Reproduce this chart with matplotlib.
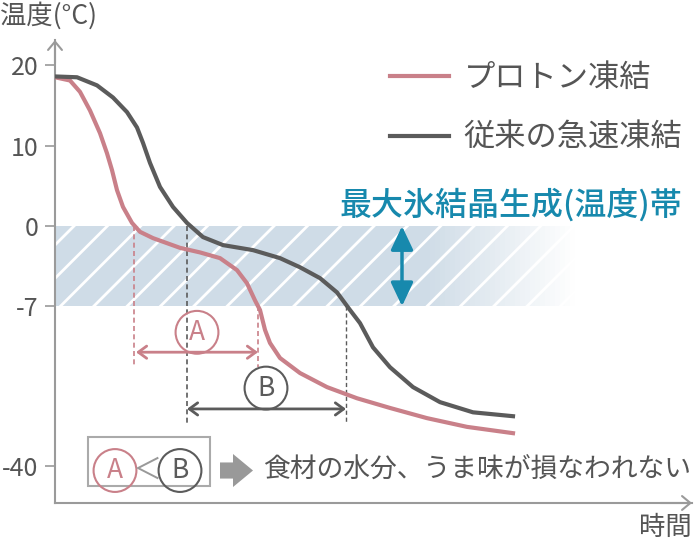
import numpy as np
import matplotlib.pyplot as plt
from matplotlib.patches import Rectangle

plt.rcParams['font.family'] = ['Noto Sans CJK JP', 'DejaVu Sans']
plt.rcParams['hatch.linewidth'] = 2.0

# time (arbitrary units) / temperature (deg C)
proton_t = [0, 1.5, 2.5, 3.5, 4.5, 5.2, 5.7, 6.2, 6.8, 7.7, 8.5, 9.8, 12.5, 14.5,
            16.5, 18.2, 19.2, 20.0, 20.5, 21.0, 21.5, 22.5, 24.5, 27.2, 30.2,
            33.5, 37.2, 41.2, 45.8]
proton_T = [18.5, 18.1, 16.7, 14.4, 11.6, 9.1, 7.0, 4.5, 2.4, 0.4, -0.5, -1.05, -1.9,
            -2.3, -2.8, -3.85, -5.0, -6.5, -7.8, -11.9, -14.6, -17.7, -20.8, -23.7,
            -26.0, -28.0, -30.1, -31.9, -33.2]
conv_t = [0, 2.2, 4.2, 5.8, 7.2, 8.2, 8.8, 9.5, 10.5, 11.8, 13.2, 14.8, 16.8, 19.8,
          22.5, 24.5, 26.5, 28.2, 29.5, 30.5, 31.8, 33.5, 35.8, 38.5, 41.8, 45.8]
conv_T = [18.6, 18.5, 17.5, 16.0, 14.2, 12.3, 10.4, 7.9, 4.9, 2.4, 0.4, -0.96, -1.66,
          -2.1, -2.8, -3.6, -4.55, -5.8, -7.8, -10.5, -15.5, -19.6, -23.7, -26.8,
          -28.9, -29.7]
series_names = ['プロトン凍結', '従来の急速凍結']

ytick_vals = [20, 10, 0, -7, -40]
ytick_labels = ['20', '10', '0', '-7', '-40']
band_lo, band_hi = -7, 0

# time markers for A (proton) and B (conventional)
a_start, a_end = 7.9, 20.3
b_start, b_end = 13.2, 29.1

PINK = '#c98089'
DARK = '#5b5b5b'
AXIS = '#9a9a9a'
TEXT = '#555555'
TEAL = '#1789ad'
BAND = '#cfdce7'

# the temperature axis is not linear: piecewise stretch
seg_T = [-200, -40, -7, 0, 10, 20, 200]
seg_H = [-738.8, 37, 197, 277, 357, 438, 1896]


def fwd(v):
    return np.interp(v, seg_T, seg_H)


def inv(v):
    return np.interp(v, seg_H, seg_T)


fig = plt.figure(figsize=(6.95, 5.43), dpi=100)
ax = fig.add_axes([55/695, 40/543, 637/695, 463/543])
ax.set_yscale('function', functions=(fwd, inv))
ax.set_xlim(0, 63.7)
ax.set_ylim(-47.6, 23.1)

for s in ['top', 'right']:
    ax.spines[s].set_visible(False)
for s in ['left', 'bottom']:
    ax.spines[s].set_color(AXIS)
    ax.spines[s].set_linewidth(1.5)
ax.set_xticks([])
ax.set_yticks(ytick_vals, ytick_labels)
ax.yaxis.set_minor_locator(plt.NullLocator())
ax.tick_params(axis='y', length=7, width=1.2, color=AXIS, labelsize=18,
               labelcolor=TEXT, pad=5)

# axis arrow heads
arr = dict(arrowstyle='->,head_length=0.3,head_width=0.25', color=AXIS, lw=1.5,
           mutation_scale=20, shrinkA=0, shrinkB=0)
ax.annotate('', xy=(0, 1), xytext=(0, 0.95), xycoords='axes fraction',
            arrowprops=arr, annotation_clip=False)
ax.annotate('', xy=(1, 0), xytext=(0.95, 0), xycoords='axes fraction',
            arrowprops=arr, annotation_clip=False)

# ice crystal band with fade
ax.fill_between([0, 52], band_lo, band_hi, facecolor=BAND, edgecolor='white',
                hatch='/', linewidth=0, zorder=1)
edges = np.linspace(37, 52, 31)
for i in range(30):
    ax.fill_between([edges[i], edges[i + 1]], band_lo, band_hi, color='white',
                    alpha=(i + 0.5) / 30, lw=0, antialiased=False, zorder=2)

# curves
ax.plot(proton_t, proton_T, color=PINK, lw=3, zorder=5, label=series_names[0],
        solid_joinstyle='round')
ax.plot(conv_t, conv_T, color=DARK, lw=3, zorder=5, label=series_names[1],
        solid_joinstyle='round')

ax.legend(loc='upper left', bbox_to_anchor=(390/695, 1 - 62/543),
          bbox_transform=fig.transFigure, frameon=False, fontsize=22.5,
          handlelength=1.9, handletextpad=0.45, labelspacing=0.9,
          borderpad=0, borderaxespad=0, labelcolor=TEXT)

# dashed guides
ax.plot([a_start, a_start], [0, -19.6], color=PINK, lw=1.2, ls=(0, (3, 2)), zorder=3)
ax.plot([a_end, a_end], [-7, -19.6], color=PINK, lw=1.2, ls=(0, (3, 2)), zorder=3)
ax.plot([b_start, b_start], [0, -31.3], color=DARK, lw=1.2, ls=(0, (3, 2)), zorder=3)
ax.plot([b_end, b_end], [-7, -31.3], color=DARK, lw=1.0, ls=(0, (3, 2)), zorder=3)

dbl = 'head_length=0.3,head_width=0.22'
ax.annotate('', xy=(a_end, -16.5), xytext=(a_start + 0.2, -16.5),
            arrowprops=dict(arrowstyle='<->,' + dbl, color=PINK, lw=2,
                            mutation_scale=20, shrinkA=0, shrinkB=0))
ax.annotate('', xy=(b_end, -28.2), xytext=(b_start, -28.2),
            arrowprops=dict(arrowstyle='<->,' + dbl, color=DARK, lw=2,
                            mutation_scale=20, shrinkA=0, shrinkB=0))

circ = 'circle,pad=0.3'
ax.text(14.2, -12.4, 'A', color=PINK, fontsize=19, ha='center', va='center',
        bbox=dict(boxstyle=circ, fc='none', ec=PINK, lw=1.5))
ax.text(21.1, -23.9, 'B', color=DARK, fontsize=19, ha='center', va='center',
        bbox=dict(boxstyle=circ, fc='none', ec=DARK, lw=1.5))

# teal band label and arrow
ax.text(62.7, 2.6, '最大氷結晶生成(温度)帯', color=TEAL, fontsize=23,
        ha='right', va='center', fontweight='medium')
ax.annotate('', xy=(34.7, -7), xytext=(34.7, 0),
            arrowprops=dict(arrowstyle='<|-|>,head_length=0.72,head_width=0.34',
                            color=TEAL, lw=2.5, mutation_scale=20,
                            shrinkA=0, shrinkB=0), zorder=6)

# bottom note
ax.add_patch(Rectangle((3.3, -44.1), 12.2, 10.1, fill=False, ec='#aaaaaa', lw=1.5))
ax.text(6.0, -40.9, 'A', color=PINK, fontsize=19, ha='center', va='center',
        bbox=dict(boxstyle=circ, fc='none', ec=PINK, lw=1.5))
ax.text(9.3, -40.9, '＜', color='#999999', fontsize=21, ha='center', va='center')
ax.text(12.5, -40.9, 'B', color=DARK, fontsize=19, ha='center', va='center',
        bbox=dict(boxstyle=circ, fc='none', ec=DARK, lw=1.5))
ax.annotate('', xy=(19.8, -40.9), xytext=(16.5, -40.9),
            arrowprops=dict(arrowstyle='simple,head_length=0.72,head_width=1.19,tail_width=0.58',
                            fc='#999999', ec='none', mutation_scale=20,
                            shrinkA=0, shrinkB=0))
ax.text(20.8, -40.9, '食材の水分、うま味が損なわれない', fontsize=19.3, color=TEXT,
        ha='left', va='center')

fig.text(0, 1 - 16/543, '温度(°C)', fontsize=19, color=TEXT, ha='left', va='center')
fig.text(692/695, 1 - 527/543, '時間', fontsize=19, color=TEXT, ha='right', va='center')

fig.savefig('out.png', dpi=100)
